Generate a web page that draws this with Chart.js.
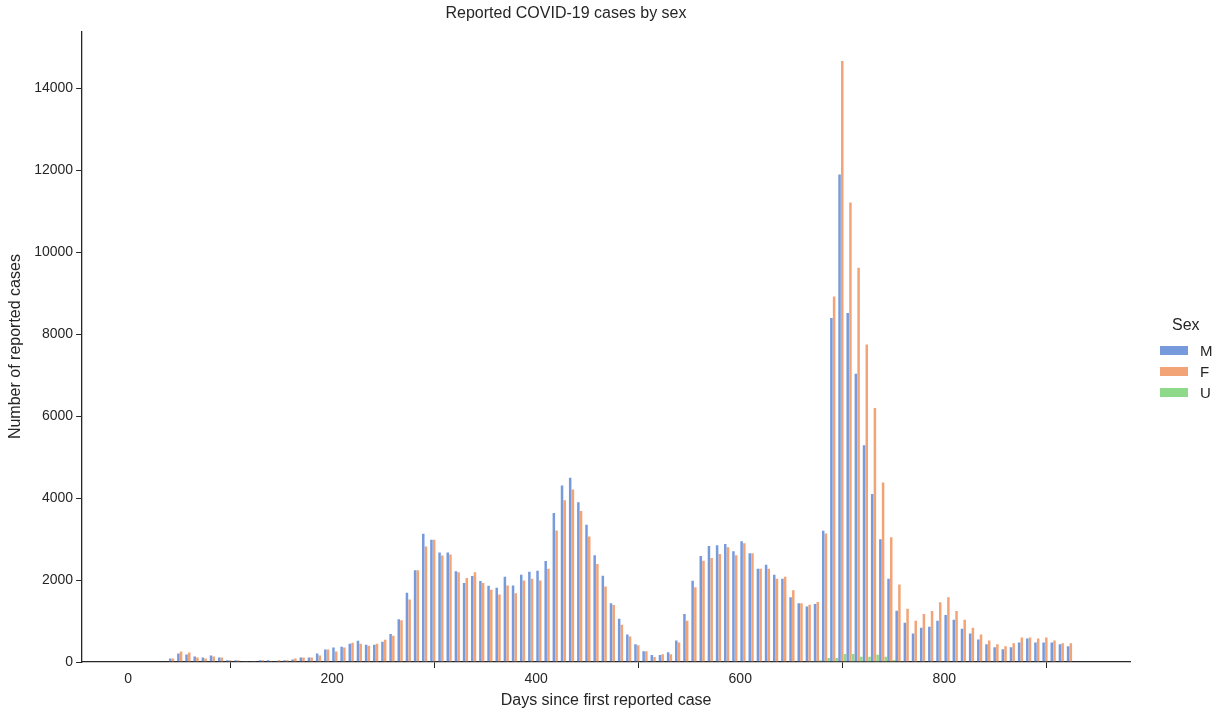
<!DOCTYPE html>
<html><head><meta charset="utf-8">
<script src="https://cdn.jsdelivr.net/npm/chart.js@4/dist/chart.umd.min.js"></script>
<style>
html,body{margin:0;padding:0;background:#fff;}
#wrap{position:relative;width:1223px;height:718px;}
#legend{position:absolute;left:1160px;top:316px;font-family:"Liberation Sans",Arial,sans-serif;color:#262626;}
#legend .t{font-size:16px;margin-left:12px;margin-bottom:6px;}
#legend .r{display:flex;align-items:center;height:21px;font-size:15px;}
#legend .s{width:28px;height:9px;margin-right:12px;}
</style></head><body>
<div id="wrap"><canvas id="c" width="1223" height="718"></canvas>
<div id="legend"><div class="t">Sex</div>
<div class="r"><span class="s" style="background:rgba(72,120,208,0.75)"></span>M</div>
<div class="r"><span class="s" style="background:rgba(238,133,74,0.75)"></span>F</div>
<div class="r"><span class="s" style="background:rgba(106,204,100,0.75)"></span>U</div></div></div>
<script>
const binCenters = [44,52,60,68,76,84,92,100,108,116,124,132,140,148,156,164,172,180,188,196,204,212,220,228,236,244,252,260,268,276,284,292,300,308,316,324,332,340,348,356,364,372,380,388,396,404,412,420,428,436,444,452,460,468,476,484,492,500,508,516,524,532,540,548,556,564,572,580,588,596,604,612,620,628,636,644,652,660,668,676,684,692,700,708,716,724,732,740,748,756,764,772,780,788,796,804,812,820,828,836,844,852,860,868,876,884,892,900,908,916,924,932];
const male = [88,207,183,136,112,160,112,40,40,16,16,40,40,16,40,64,112,112,207,303,351,375,447,519,423,423,495,686,1045,1692,2242,3128,2985,2673,2673,2218,1931,2099,1979,1859,1815,2083,1867,2131,2202,2226,2466,3639,4309,4501,3902,3352,2609,2107,1436,1053,670,431,263,168,168,239,527,1172,1986,2587,2829,2849,2878,2704,2946,2655,2277,2374,2132,2035,1579,1434,1357,1415,3207,8401,11899,8518,7035,5291,4099,2994,2035,1250,959,694,838,862,1005,1149,1029,814,694,551,431,359,311,359,479,575,479,479,479,431,383];
const female = [88,255,231,112,88,136,112,40,40,16,16,40,16,40,40,88,112,112,160,303,255,351,471,447,399,447,543,638,1021,1524,2242,2817,2985,2601,2625,2194,2051,2194,1931,1764,1648,1867,1676,1987,2035,1987,2274,3208,3950,4213,3687,3064,2394,1843,1389,910,622,407,263,120,192,192,479,1008,1822,2471,2539,2636,2800,2607,2897,2655,2277,2277,2035,2083,1754,1434,1395,1463,3140,8924,14671,11221,9622,7752,6202,4380,3043,1890,1298,1005,1173,1245,1460,1580,1245,1029,838,670,527,431,383,455,599,599,575,599,527,455,455];
const unknown = [0,0,0,0,0,0,0,0,0,0,0,0,0,0,0,0,0,0,0,0,0,0,0,0,0,0,0,0,0,0,0,0,0,0,0,0,0,0,0,0,0,0,0,0,0,0,0,0,0,0,0,0,0,0,0,0,0,0,0,0,0,0,0,0,0,0,0,0,0,0,0,0,0,0,0,0,0,0,20,40,97,97,194,194,126,126,174,126,48,20,0,0,0,0,0,0,0,0,0,0,0,0,0,0,0,0,0,0,0,0,0,0];
const xTicks = [0,200,400,600,800];
const yTicks = [0,2000,4000,6000,8000,10000,12000,14000];
const pts = a => a.map((v,i)=>({x:binCenters[i],y:v}));
const F = '"Liberation Sans", Arial, sans-serif';
const mk = (label,arr,col)=>({label,data:pts(arr),backgroundColor:col,borderWidth:0,categoryPercentage:1,barPercentage:0.92,grouped:true});
new Chart(document.getElementById('c'),{
 type:'bar',
 data:{datasets:[mk('M',male,'rgba(72,120,208,0.75)'),mk('F',female,'rgba(238,133,74,0.75)'),mk('U',unknown,'rgba(106,204,100,0.75)')]},
 options:{responsive:false,animation:false,
  layout:{padding:{left:2,right:93,top:0,bottom:4}},
  plugins:{legend:{display:false},tooltip:{enabled:false},
   title:{display:true,text:'Reported COVID-19 cases by sex',color:'#262626',font:{family:F,size:16,weight:'normal'},padding:{top:4,bottom:8}}},
  scales:{
   x:{type:'linear',min:-45,max:982,offset:false,
      afterBuildTicks:s=>{s.ticks=xTicks.map(v=>({value:v}));},
      ticks:{color:'#262626',font:{family:F,size:14},maxRotation:0},
      grid:{drawOnChartArea:false,tickLength:6,color:'#262626'},border:{color:'#262626',width:1.3},
      title:{display:true,text:'Days since first reported case',color:'#262626',font:{family:F,size:16},padding:{top:0}}},
   y:{min:0,max:15400,
      afterBuildTicks:s=>{s.ticks=yTicks.map(v=>({value:v}));},
      ticks:{color:'#262626',font:{family:F,size:14},callback:v=>String(v)},
      grid:{drawOnChartArea:false,tickLength:6,color:'#262626'},border:{color:'#262626',width:1.3},
      title:{display:true,text:'Number of reported cases',color:'#262626',font:{family:F,size:16},padding:{bottom:6}}}
  }}
});
</script></body></html>
